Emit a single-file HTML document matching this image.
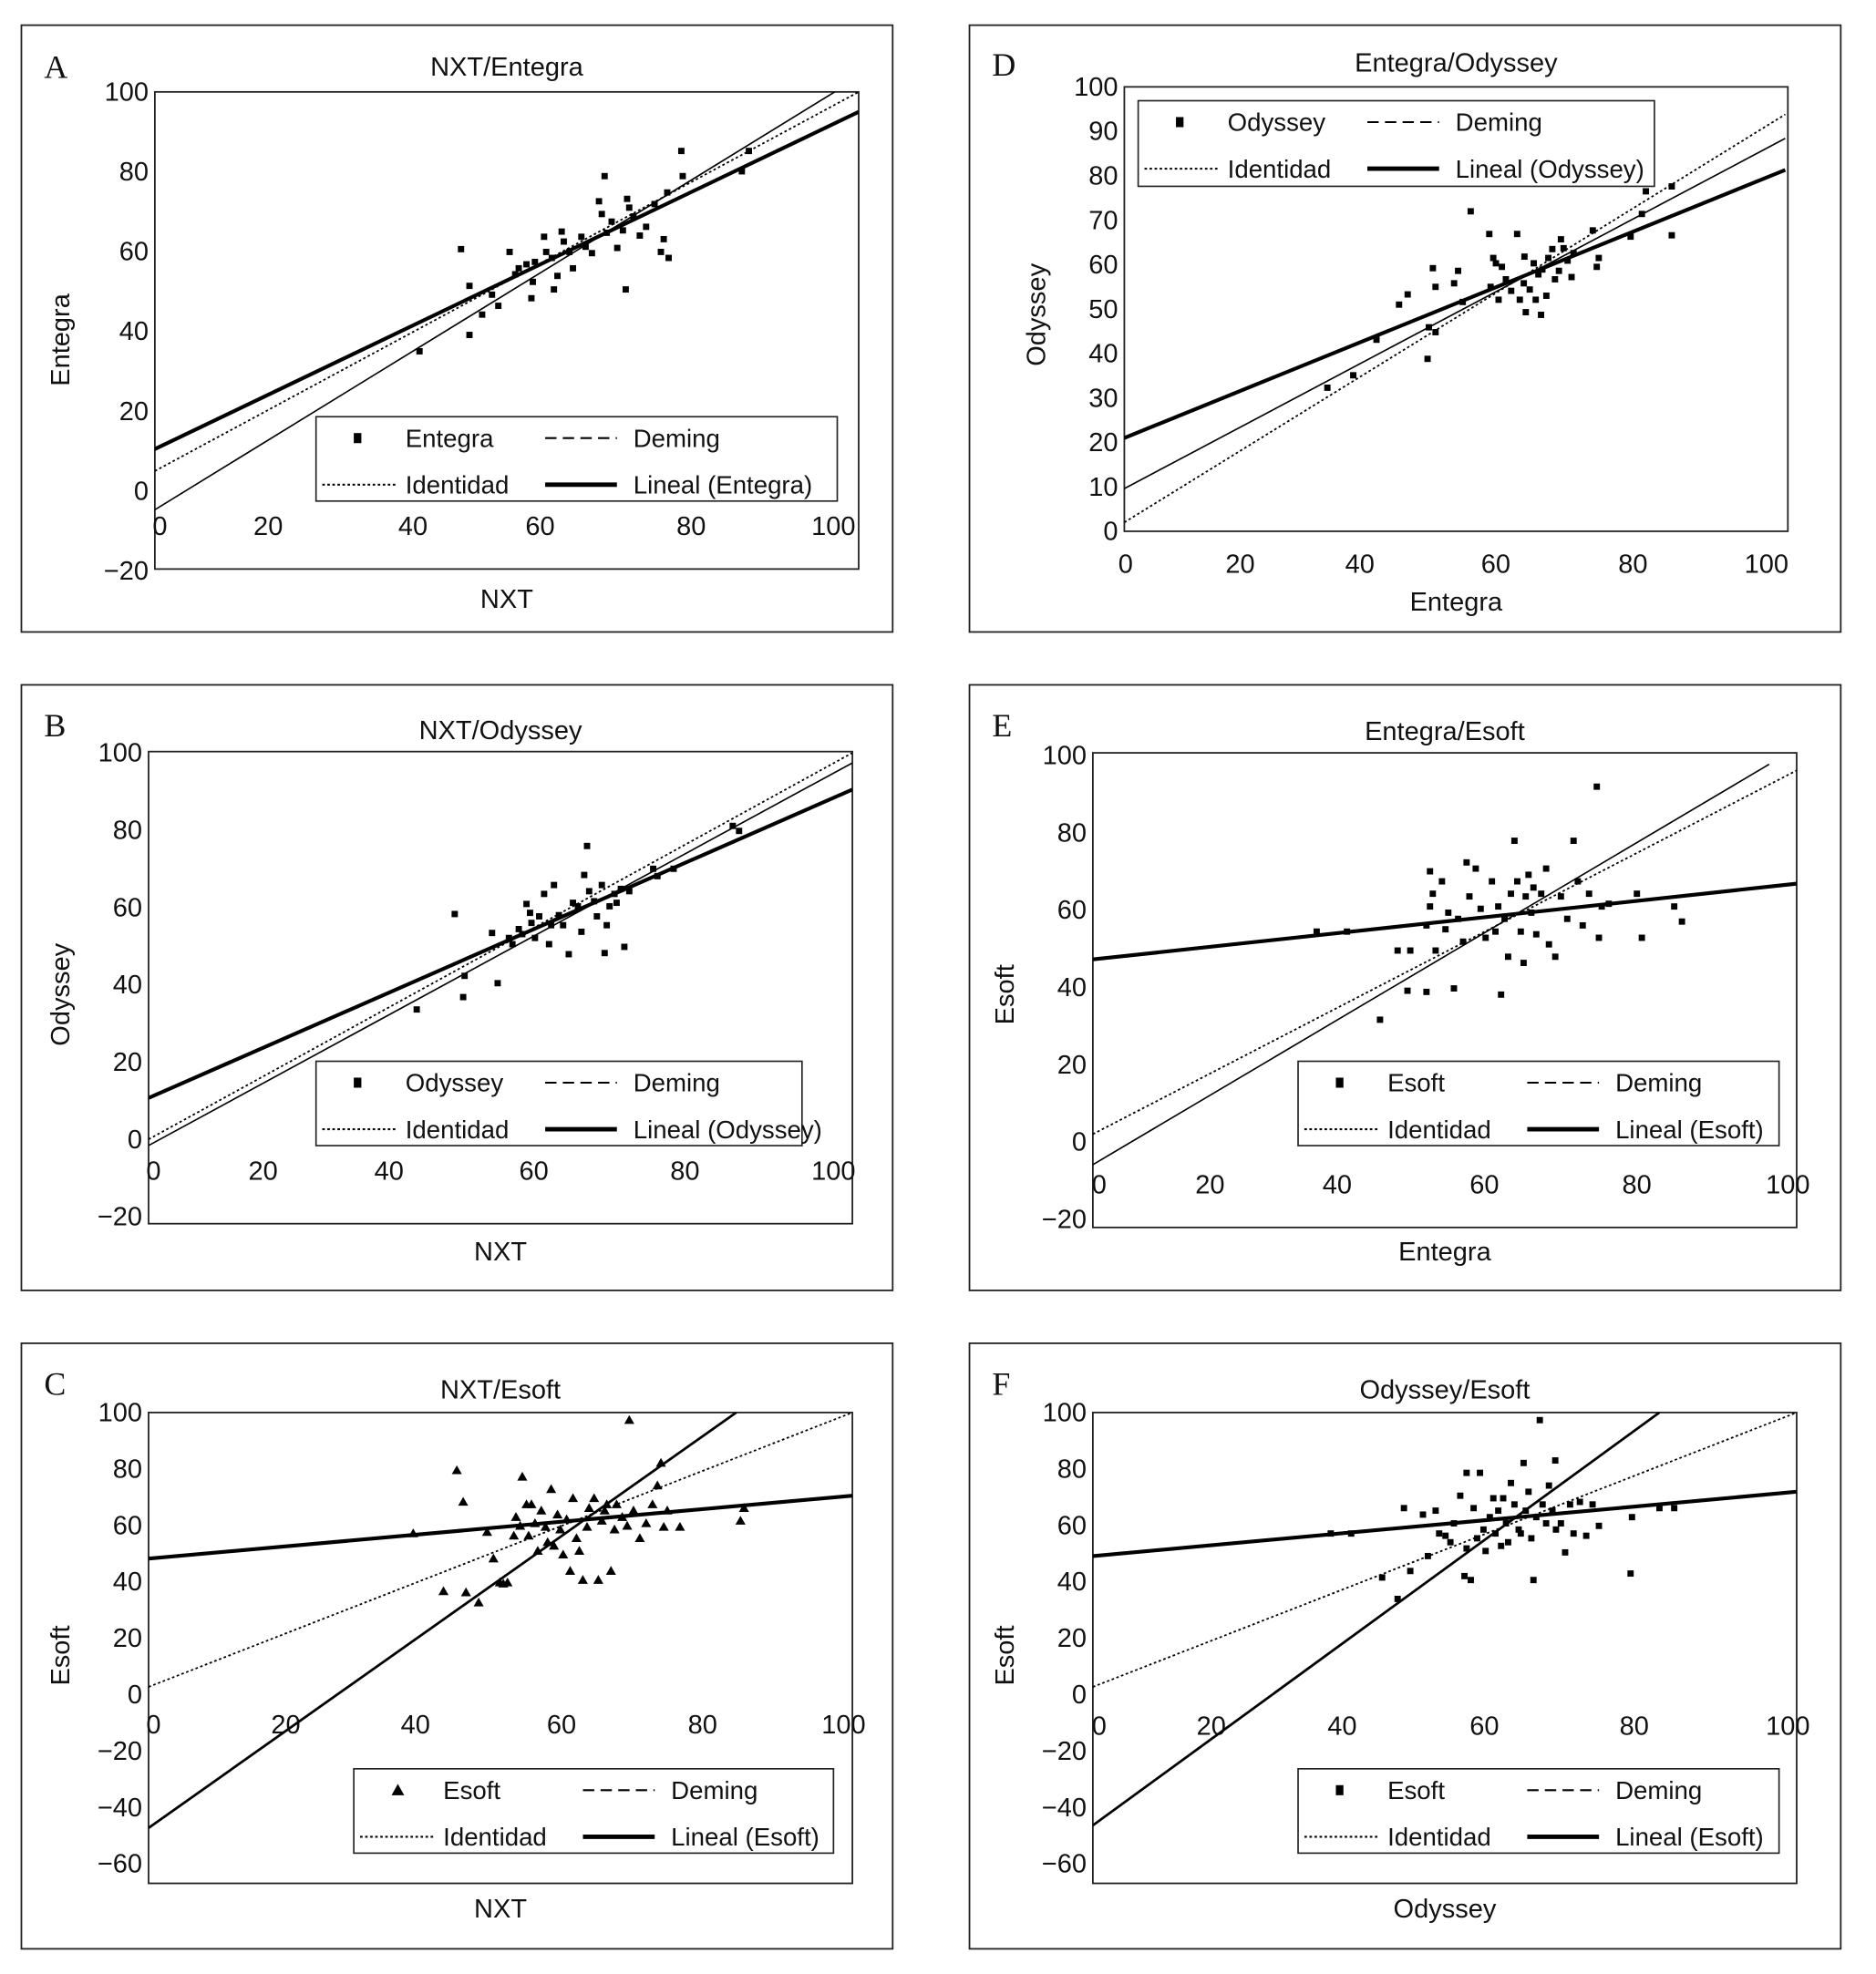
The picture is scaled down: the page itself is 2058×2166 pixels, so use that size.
<!DOCTYPE html>
<html><head><meta charset="utf-8">
<style>
html,body{margin:0;padding:0;background:#fff;}
svg{display:block;}
text{font-family:"Liberation Sans",Arial,sans-serif;fill:#111;}
.serif{font-family:"Liberation Serif",serif;}
</style></head>
<body>
<svg id="fig" xmlns="http://www.w3.org/2000/svg" width="2058" height="2166" viewBox="0 0 1490 1568" preserveAspectRatio="none"></svg>
<script>
// ---------- DATA ----------
const xTicks = [0,20,40,60,80,100];
const yTicksWide = [-20,0,20,40,60,80,100];
const yTicksD = [0,10,20,30,40,50,60,70,80,90,100];
const yTicksEsoft = [-60,-40,-20,0,20,40,60,80,100];

const aX = [43.5,44.7,44.7,37.6,46.5,47.9,48.8,50.4,51.2,51.7,52.8,53.5,53.7,54.0,55.3,55.6,56.4,56.7,57.2,57.8,58.1,58.9,59.4,60.6,61.2,62.1,63.1,63.5,63.9,64.2,64.9,65.7,66.5,66.9,67.1,67.4,68.0,68.9,69.8,71.0,71.9,72.3,72.8,73.0,74.8,75.0,83.4,84.4];
const aY = [60.6,51.4,39.1,35.0,44.2,49.2,46.4,59.9,54.3,55.8,56.8,48.3,52.4,57.4,63.7,59.9,58.4,50.5,53.9,65.0,62.5,59.9,55.8,63.7,61.2,59.6,72.6,69.4,78.9,64.7,67.5,60.9,65.3,50.5,73.2,71.0,68.8,64.0,66.2,71.9,59.9,63.1,74.8,58.4,85.2,78.9,80.1,85.2];
const aLineal = [0,10.5,100,95];
const aDeming = [0,-4.7,96.6,100];
const aIdent = [0,5,100,100];

const bX = [43.5,44.7,44.9,48.8,49.6,51.2,51.7,52.6,53.1,53.7,54.2,54.4,54.9,55.5,56.2,56.9,57.2,57.6,58.3,58.9,59.7,60.3,61.0,61.5,61.9,62.3,62.6,63.3,63.7,64.4,64.8,65.1,65.5,66.2,66.5,67.1,67.6,68.3,71.7,72.3,74.6,83.0,83.9,38.1];
const bY = [58.3,36.8,42.3,53.4,40.4,52.1,50.5,54.4,53.1,60.9,58.6,56.0,52.1,57.7,63.5,50.5,55.4,65.8,58.0,55.4,47.9,61.2,60.3,53.7,68.4,75.9,64.2,61.6,57.7,65.8,48.2,55.4,60.3,63.5,61.2,64.8,49.8,64.2,70.0,68.1,70.0,81.1,79.8,33.6];
const bLineal = [0,10.7,100,90.5];
const bDeming = [0,-1.6,100,97.4];
const bIdent = [0,0,100,100];

const cX = [37.6,43.8,44.7,46.9,49.0,49.9,51.0,51.9,52.2,52.8,53.1,53.7,54.0,54.4,54.9,55.3,55.8,56.4,56.7,57.2,57.6,58.1,58.5,58.9,59.4,59.9,60.3,60.8,61.2,61.7,62.3,62.6,63.3,63.9,64.4,64.8,65.1,65.7,66.2,66.5,67.3,68.0,68.3,68.9,69.8,70.7,71.6,72.3,72.8,73.2,73.7,75.5,84.1,84.6,50.4,41.9,48.1,45.1];
const cY = [57.1,79.5,68.3,32.6,48.2,39.7,39.7,56.3,62.9,59.8,77.2,67.4,56.3,67.4,60.7,50.9,65.2,59.4,54.0,72.8,52.7,63.8,58.5,49.6,62.1,43.8,69.6,55.4,50.9,40.6,59.4,66.1,69.6,40.6,61.6,65.2,67.4,43.8,58.5,67.4,62.9,59.8,97.3,65.2,55.4,60.7,67.4,74.1,82.1,59.4,65.2,59.4,61.6,66.1,39.3,36.6,57.6,36.2];
const cLineal = [0,48.2,100,70.5];
const cDeming = [0,-47.3,83.5,100];
const cIdent = [0,2.7,100,100];

const dX = [30.6,34.5,38.0,41.4,42.7,45.7,45.9,46.5,46.9,46.9,49.7,50.3,52.2,51.0,55.0,55.2,55.6,56.0,56.4,56.9,57.5,58.3,59.2,59.6,60.2,60.3,60.5,61.1,61.7,62.0,62.4,62.8,63.0,63.6,63.9,64.5,64.9,65.5,65.8,66.2,66.8,67.4,67.7,70.6,71.2,71.5,76.3,78.0,78.6,82.5,82.5];
const dY = [32.3,35.1,43.1,51.0,53.3,38.8,45.9,59.2,55.0,44.8,55.8,58.6,72.0,51.6,66.9,55.0,61.5,60.3,52.1,59.5,56.7,54.1,66.9,52.1,55.8,61.8,49.3,54.4,60.3,52.1,57.8,48.7,58.9,53.0,61.5,63.5,56.7,58.6,65.7,63.7,60.9,57.2,62.6,67.7,59.5,61.5,66.3,71.4,76.5,77.6,66.6];
const dLineal = [0,21,99.6,81.3];
const dDeming = [0,9.6,99.6,88.4];
const dIdent = [0,2,99.6,93.8];

const eX = [31.8,36.1,40.8,43.3,45.1,47.4,47.4,47.9,47.9,48.3,48.7,49.6,50.1,50.5,51.3,51.9,52.6,53.1,53.5,54.4,55.1,55.8,56.7,57.2,57.6,58.0,58.5,59.0,59.4,59.9,60.3,60.8,61.2,61.5,61.9,62.3,62.6,63.0,63.7,64.4,64.8,65.7,66.5,67.4,68.3,68.9,69.6,70.5,71.6,71.9,72.3,73.3,77.3,78.0,82.6,83.7,44.7];
const eY = [54.4,54.4,31.6,49.5,49.5,56.0,38.8,70.0,60.9,64.2,49.5,67.4,55.0,59.3,39.7,57.7,51.8,72.3,63.5,70.7,60.3,52.8,67.4,54.4,60.9,38.1,57.7,47.9,64.2,77.9,67.4,54.4,46.3,63.5,69.1,59.3,65.8,53.7,64.2,70.7,51.1,47.9,63.5,57.7,77.9,67.4,56.0,64.2,91.9,52.8,60.9,61.6,64.2,52.8,60.9,57.0,39.1];
const eLineal = [0,47.2,100,66.8];
const eDeming = [0,-5.9,96.1,97.7];
const eIdent = [0,2,100,96.1];

const fX = [33.8,36.7,41.1,43.3,44.2,45.1,46.9,47.6,48.7,49.2,50.1,50.8,51.3,52.2,52.8,53.1,53.7,54.1,54.6,55.0,55.5,55.8,56.4,56.9,57.2,57.6,58.0,58.3,58.7,59.0,59.4,59.9,60.5,60.8,61.2,61.5,61.9,62.3,62.6,63.0,63.5,63.9,64.4,64.8,65.3,65.8,66.5,67.1,67.8,68.3,69.2,70.1,71.0,71.9,76.4,76.6,80.5,82.6,53.1,65.7];
const fY = [57.1,57.1,41.5,33.9,66.1,43.8,63.8,49.1,65.2,57.1,56.3,54.0,60.7,70.5,42.0,51.8,40.6,66.1,55.4,78.6,58.5,50.9,62.9,69.6,57.1,65.2,52.7,69.6,60.7,54.0,75.0,67.4,58.5,57.1,82.1,65.2,71.9,55.4,40.6,62.9,97.3,67.4,60.7,74.1,65.2,58.5,60.7,50.4,67.4,57.1,68.3,56.3,67.4,59.8,42.9,62.9,66.1,66.1,78.6,83.0];
const fLineal = [0,49.1,100,71.9];
const fDeming = [0,-46.4,80.5,100];
const fIdent = [0,2.7,100,100];

// ---------- LAYOUT ----------
const panels = [
 {id:'a',letter:'A',title:'NXT/Entegra',xt:'NXT',yt:'Entegra',series:'Entegra',lin:'Lineal (Entegra)',
  box:[17,20,709,502],plot:[123,73,682,452],x0:123,x1:682,y0:390,y100:73,yTicks:yTicksWide,xLabY:418,xLabPx:[127,213,328,429,549,662],
  leg:[251,331,665,398],tri:false,X:aX,Y:aY,L:aLineal,D:aDeming,I:aIdent,letterPos:[35,62],titleY:53,xtY:475,ytX:48,ytY:270},
 {id:'b',letter:'B',title:'NXT/Odyssey',xt:'NXT',yt:'Odyssey',series:'Odyssey',lin:'Lineal (Odyssey)',
  box:[17,544,709,1025],plot:[118,597,677,972],x0:118,x1:677,y0:905,y100:598,yTicks:yTicksWide,xLabY:930,xLabPx:[122,209,309,424,544,662],
  leg:[251,843,637,910],tri:false,X:bX,Y:bY,L:bLineal,D:bDeming,I:bIdent,letterPos:[35,585],titleY:580,xtY:993,ytX:48,ytY:790},
 {id:'c',letter:'C',title:'NXT/Esoft',xt:'NXT',yt:'Esoft',series:'Esoft',lin:'Lineal (Esoft)',
  box:[17,1067,709,1548],plot:[118,1122,677,1496],x0:118,x1:677,y0:1346,y100:1122,yTicks:yTicksEsoft,xLabY:1370,xLabPx:[122,227,330,446,558,670],
  leg:[281,1405,662,1472],tri:true,X:cX,Y:cY,L:cLineal,D:cDeming,I:cIdent,letterPos:[35,1108],titleY:1104,xtY:1515,ytX:48,ytY:1315},
 {id:'d',letter:'D',title:'Entegra/Odyssey',xt:'Entegra',yt:'Odyssey',series:'Odyssey',lin:'Lineal (Odyssey)',
  box:[770,20,1462,502],plot:[893,69,1420,422],x0:893,x1:1420,y0:422,y100:69,yTicks:yTicksD,xLabY:448,xLabPx:[894,985,1080,1188,1297,1403],
  leg:[904,80,1314,148],tri:false,X:dX,Y:dY,L:dLineal,D:dDeming,I:dIdent,letterPos:[788,60],titleY:50,xtY:477,ytX:823,ytY:250},
 {id:'e',letter:'E',title:'Entegra/Esoft',xt:'Entegra',yt:'Esoft',series:'Esoft',lin:'Lineal (Esoft)',
  box:[770,544,1462,1025],plot:[868,598,1427,975],x0:868,x1:1427,y0:907,y100:600,yTicks:yTicksWide,xLabY:941,xLabPx:[873,961,1062,1179,1300,1420],
  leg:[1031,843,1413,910],tri:false,X:eX,Y:eY,L:eLineal,D:eDeming,I:eIdent,letterPos:[788,585],titleY:581,xtY:993,ytX:798,ytY:790},
 {id:'f',letter:'F',title:'Odyssey/Esoft',xt:'Odyssey',yt:'Esoft',series:'Esoft',lin:'Lineal (Esoft)',
  box:[770,1067,1462,1548],plot:[868,1122,1427,1496],x0:868,x1:1427,y0:1346,y100:1122,yTicks:yTicksEsoft,xLabY:1371,xLabPx:[873,962,1066,1179,1298,1420],
  leg:[1031,1405,1413,1472],tri:false,X:fX,Y:fY,L:fLineal,D:fDeming,I:fIdent,letterPos:[788,1108],titleY:1104,xtY:1515,ytX:798,ytY:1315}
];

const NS='http://www.w3.org/2000/svg';
const svg=document.getElementById('fig');
function mk(tag,parent,attrs){const e=document.createElementNS(NS,tag);for(const k in attrs)e.setAttribute(k,attrs[k]);parent.appendChild(e);return e;}

panels.forEach(p=>{
  const g=mk('g',svg,{});
  
  
  const sx=v=>p.x0+(p.x1-p.x0)*v/100;
  const sy=v=>p.y0-(p.y0-p.y100)*v/100;
  const [bx0,by0,bx1,by1]=p.box;
  const frame=mk('rect',g,{x:bx0,y:by0,width:bx1-bx0,height:by1-by0,fill:'none',stroke:'#222','stroke-width':1.3});
  
  
  const let_=mk('text',g,{x:p.letterPos[0],y:p.letterPos[1],'font-size':26,class:'serif'});let_.textContent=p.letter;
  
  
  const t=mk('text',g,{x:(p.plot[0]+p.plot[2])/2,y:p.titleY+7,'font-size':21,'text-anchor':'middle'});t.textContent=p.title;
  
  
  const [px0,py0,px1,py1]=p.plot;
  const pl=mk('rect',g,{x:px0,y:py0,width:px1-px0,height:py1-py0,fill:'none',stroke:'#222','stroke-width':1.3});
  
  
  p.yTicks.forEach(v=>{
    const tt=mk('text',g,{x:px0-5,y:sy(v)+7,'font-size':21,'text-anchor':'end'});
    tt.textContent=v<0?'\u2212'+(-v):String(v);
    
    
  });
  xTicks.forEach((v,i)=>{
    const tt=mk('text',g,{x:p.xLabPx[i],y:p.xLabY+7,'font-size':21,'text-anchor':'middle'});
    tt.textContent=String(v);
    
    
  });
  const xt=mk('text',g,{x:(px0+px1)/2,y:p.xtY+8,'font-size':21,'text-anchor':'middle'});xt.textContent=p.xt;
  
  
  const yt=mk('text',g,{x:0,y:0,'font-size':21,'text-anchor':'middle',transform:`translate(${p.ytX+7},${p.ytY}) rotate(-90)`});yt.textContent=p.yt;
  
  
  const cp=mk('clipPath',g,{id:'clip'+p.id});
  mk('rect',cp,{x:px0,y:py0,width:px1-px0,height:py1-py0});
  const lg=mk('g',g,{'clip-path':`url(#clip${p.id})`});
  p.X.forEach((xv,i)=>{
    const X=sx(xv),Y=sy(p.Y[i]);
    let m;
    if(p.tri){m=mk('polygon',lg,{points:`${X},${Y-4} ${X-4},${Y+3} ${X+4},${Y+3}`,fill:'#000'});}
    else{m=mk('rect',lg,{x:X-2.5,y:Y-2.5,width:5,height:5,fill:'#000'});}
    
    
  });
  const line=(arr,w,dash,name)=>{
    const l=mk('line',lg,{x1:sx(arr[0]),y1:sy(arr[1]),x2:sx(arr[2]),y2:sy(arr[3]),stroke:'#000','stroke-width':w});
    if(dash)l.setAttribute('stroke-dasharray',dash);
    
    
  };
  line(p.I,1.3,'2 2','identity-line');
  line(p.D,(p.id==='c'||p.id==='f')?2:1.2,null,'deming-line');
  line(p.L,3,null,'linear-fit-line');
  const [lx0,ly0,lx1,ly1]=p.leg;
  const lgg=mk('g',g,{});
  
  
  mk('rect',lgg,{x:lx0,y:ly0,width:lx1-lx0,height:ly1-ly0,fill:'#fff',stroke:'#222','stroke-width':1.2});
  const r1=ly0+17,r2=ly0+54,c1=lx0+71;
  if(p.tri) mk('polygon',lgg,{points:`${lx0+35},${r1-5} ${lx0+30},${r1+4} ${lx0+40},${r1+4}`,fill:'#000'});
  else mk('rect',lgg,{x:lx0+30,y:r1-4,width:6,height:8,fill:'#000'});
  const addT=(x,y,s,n)=>{const e=mk('text',lgg,{x:x,y:y+7,'font-size':20});e.textContent=s;};
  addT(c1,r1,p.series,'legend-entry-series');
  mk('line',lgg,{x1:lx0+182,y1:r1,x2:lx0+239,y2:r1,stroke:'#000','stroke-width':1.5,'stroke-dasharray':'9 5'});
  addT(lx0+252,r1,'Deming','legend-entry-deming');
  mk('line',lgg,{x1:lx0+5,y1:r2,x2:lx0+64,y2:r2,stroke:'#000','stroke-width':1.5,'stroke-dasharray':'2 2'});
  addT(c1,r2,'Identidad','legend-entry-identidad');
  mk('line',lgg,{x1:lx0+182,y1:r2,x2:lx0+239,y2:r2,stroke:'#000','stroke-width':3.5});
  addT(lx0+252,r2,p.lin,'legend-entry-lineal');
});
</script>
</body></html>
